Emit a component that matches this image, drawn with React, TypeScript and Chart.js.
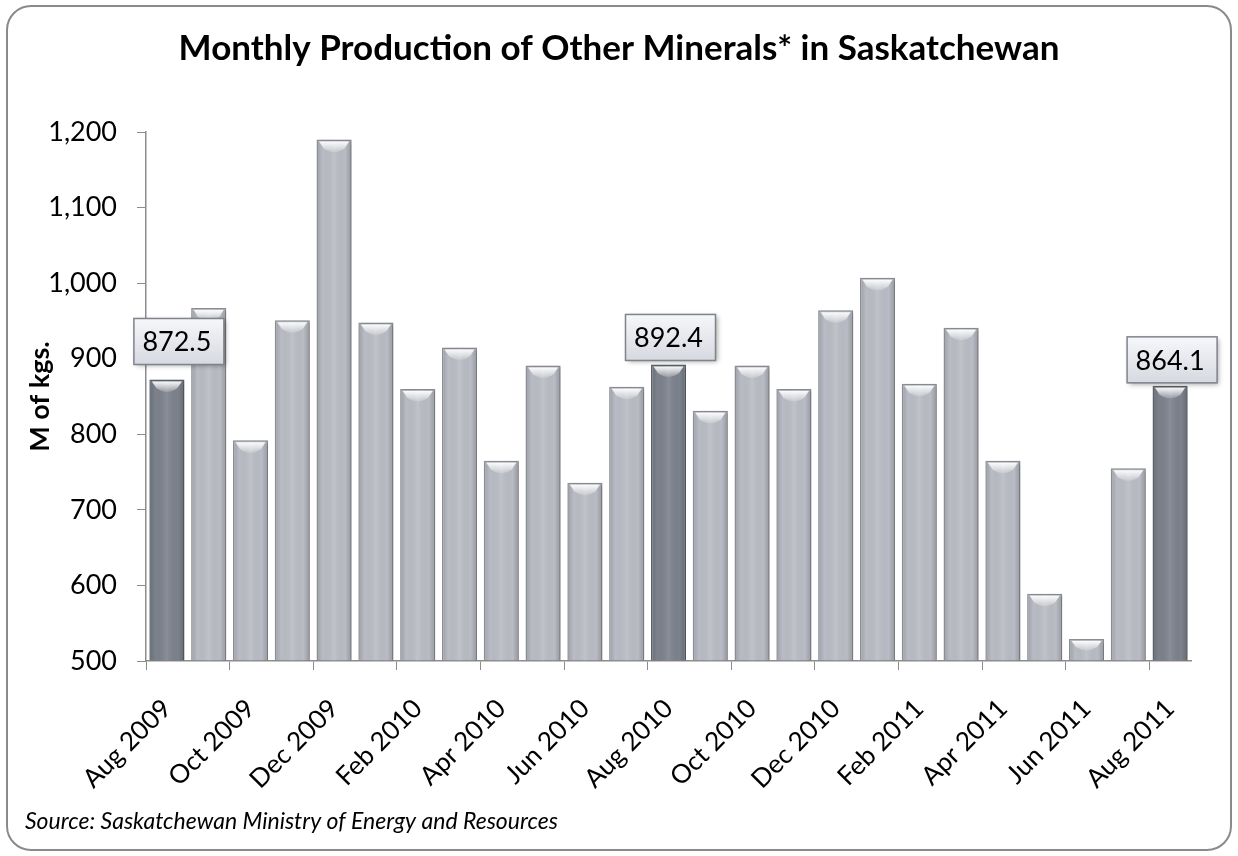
import { useEffect, useRef } from 'react';
import { Chart, registerables } from 'chart.js';

Chart.register(...registerables);

const categories = [
  'Aug 2009', 'Sep 2009', 'Oct 2009', 'Nov 2009', 'Dec 2009', 'Jan 2010', 'Feb 2010',
  'Mar 2010', 'Apr 2010', 'May 2010', 'Jun 2010', 'Jul 2010', 'Aug 2010', 'Sep 2010',
  'Oct 2010', 'Nov 2010', 'Dec 2010', 'Jan 2011', 'Feb 2011', 'Mar 2011', 'Apr 2011',
  'May 2011', 'Jun 2011', 'Jul 2011', 'Aug 2011',
];
const production = [
  872.5, 967, 792, 951, 1190, 948, 860, 915, 765, 891, 736, 863, 892.4, 831,
  891, 860, 964, 1007, 867, 941, 765, 589, 529, 755, 864.1,
];
const highlighted = ['Aug 2009', 'Aug 2010', 'Aug 2011'];
const yMin = 500;
const yMax = 1200;
const yStep = 100;
const chartTitle = 'Monthly Production of Other Minerals* in Saskatchewan';
const yAxisTitle = 'M of kgs.';
const sourceNote = 'Source: Saskatchewan Ministry of Energy and Resources';

const FONT = 'Lato, "Open Sans", sans-serif';
const AXIS_GRAY = '#8c8c8c';
const LIGHT_BAR = '#b9bcc4';
const DARK_BAR = '#7c828c';
const LIGHT_EDGE = '#8e9198';
const DARK_EDGE = '#5f646c';

const isHi = (i: number) => highlighted.includes(categories[i]);

// label box nudges (by order of highlighted bar)
const boxNudge = [
  { dx: 12, dy: -11 },
  { dx: 2, dy: 0 },
  { dx: 2, dy: 1 },
];

const decorPlugin = {
  id: 'decor',
  beforeDraw(chart: any) {
    const { ctx, width, height } = chart;
    ctx.save();
    ctx.fillStyle = '#ffffff';
    ctx.fillRect(0, 0, width, height);
    const x = 7, y = 6, w = 1224, h = 844, r = 24;
    ctx.beginPath();
    ctx.moveTo(x + r, y);
    ctx.lineTo(x + w - r, y);
    ctx.arcTo(x + w, y, x + w, y + r, r);
    ctx.lineTo(x + w, y + h - r);
    ctx.arcTo(x + w, y + h, x + w - r, y + h, r);
    ctx.lineTo(x + r, y + h);
    ctx.arcTo(x, y + h, x, y + h - r, r);
    ctx.lineTo(x, y + r);
    ctx.arcTo(x, y, x + r, y, r);
    ctx.closePath();
    ctx.strokeStyle = '#8a8a8a';
    ctx.lineWidth = 2;
    ctx.stroke();
    ctx.restore();
  },
  beforeDatasetDraw(chart: any) {
    const { ctx } = chart;
    ctx.save();
    ctx.shadowColor = 'rgba(0,0,0,0.22)';
    ctx.shadowBlur = 4;
    ctx.shadowOffsetX = 2;
    ctx.shadowOffsetY = 1;
  },
  afterDatasetDraw(chart: any) {
    const { ctx, chartArea } = chart;
    ctx.restore();
    const meta = chart.getDatasetMeta(0);
    meta.data.forEach((el: any) => {
      const { x, y, base, width } = el.getProps(['x', 'y', 'base', 'width'], true);
      const bottom = Math.min(base, chartArea.bottom);
      const left = x - width / 2;
      const right = x + width / 2;
      // cylindrical shading
      const g = ctx.createLinearGradient(left, 0, right, 0);
      g.addColorStop(0, 'rgba(0,0,0,0.16)');
      g.addColorStop(0.18, 'rgba(0,0,0,0)');
      g.addColorStop(0.5, 'rgba(255,255,255,0.10)');
      g.addColorStop(0.82, 'rgba(0,0,0,0)');
      g.addColorStop(1, 'rgba(0,0,0,0.2)');
      ctx.save();
      ctx.fillStyle = g;
      ctx.fillRect(left + 1.5, y + 1.5, width - 3, bottom - y - 1.5);
      // bevel cap
      const capH = Math.min(12, (bottom - y) / 2);
      const cg = ctx.createLinearGradient(0, y + 2, 0, y + 2 + capH);
      cg.addColorStop(0, 'rgba(255,255,255,0.95)');
      cg.addColorStop(1, 'rgba(255,255,255,0.05)');
      ctx.beginPath();
      ctx.moveTo(left + 2.5, y + 2);
      ctx.lineTo(right - 2.5, y + 2);
      ctx.lineTo(right - 7, y + 2 + capH * 0.55);
      ctx.quadraticCurveTo(x, y + 2 + capH * 1.2, left + 7, y + 2 + capH * 0.55);
      ctx.closePath();
      ctx.fillStyle = cg;
      ctx.fill();
      ctx.restore();
    });
    // value boxes
    let k = 0;
    meta.data.forEach((el: any, i: number) => {
      if (!isHi(i)) return;
      const nudge = boxNudge[k] || { dx: 0, dy: 0 };
      k += 1;
      const { x, y } = el.getProps(['x', 'y'], true);
      const bw = 90, bh = 46;
      const bx = x + nudge.dx - bw / 2;
      const by = y + nudge.dy - 4 - bh;
      ctx.save();
      ctx.shadowColor = 'rgba(0,0,0,0.35)';
      ctx.shadowBlur = 5;
      ctx.shadowOffsetX = 2;
      ctx.shadowOffsetY = 2;
      const bg = ctx.createLinearGradient(0, by, 0, by + bh);
      bg.addColorStop(0, '#f6f7fa');
      bg.addColorStop(1, '#d6d9e0');
      ctx.fillStyle = bg;
      ctx.fillRect(bx, by, bw, bh);
      ctx.shadowColor = 'rgba(0,0,0,0)';
      ctx.strokeStyle = '#7f838a';
      ctx.lineWidth = 1.5;
      ctx.strokeRect(bx, by, bw, bh);
      ctx.fillStyle = '#000000';
      ctx.font = `27px ${FONT}`;
      ctx.textAlign = 'center';
      ctx.textBaseline = 'middle';
      ctx.fillText(production[i].toFixed(1), bx + bw / 2 - 2, by + bh / 2 + 1);
      ctx.restore();
    });
  },
  afterDraw(chart: any) {
    const { ctx } = chart;
    ctx.save();
    ctx.fillStyle = '#000000';
    ctx.font = `bold 35px ${FONT}`;
    ctx.textAlign = 'center';
    ctx.textBaseline = 'alphabetic';
    ctx.fillText(chartTitle, 619, 60);
    ctx.font = `italic 23px ${FONT}`;
    ctx.textAlign = 'left';
    ctx.fillText(sourceNote, 25, 829);
    ctx.restore();
  },
};

export default function App() {
  const ref = useRef<HTMLCanvasElement | null>(null);

  useEffect(() => {
    let chart: Chart | null = null;
    let cancelled = false;
    const ready = Promise.all([
      document.fonts.load(`bold 35px Lato`),
      document.fonts.load(`27px Lato`),
      document.fonts.load(`italic 23px Lato`),
    ]).catch(() => undefined);
    ready.then(() => {
      if (cancelled || !ref.current) return;
      chart = new Chart(ref.current, {
        type: 'bar',
        data: {
          labels: categories,
          datasets: [
            {
              label: 'Production',
              data: production,
              base: yMin,
              backgroundColor: categories.map((_, i) => (isHi(i) ? DARK_BAR : LIGHT_BAR)),
              borderColor: categories.map((_, i) => (isHi(i) ? DARK_EDGE : LIGHT_EDGE)),
              borderWidth: 1.5,
              barPercentage: 0.84,
              categoryPercentage: 1,
            } as any,
          ],
        },
        options: {
          animation: false,
          responsive: false,
          devicePixelRatio: 1,
          events: [],
          layout: { padding: { left: 20, right: 47, top: 132, bottom: 0 } },
          plugins: {
            legend: { display: false },
            tooltip: { enabled: false },
            title: { display: false },
          },
          scales: {
            x: {
              offset: true,
              grid: {
                offset: true,
                drawOnChartArea: false,
                drawTicks: true,
                tickLength: 9,
                color: (c: any) => (c.index !== undefined && c.index % 2 === 0 ? AXIS_GRAY : 'rgba(0,0,0,0)'),
              },
              border: { display: true, color: AXIS_GRAY, width: 1.5 },
              ticks: {
                autoSkip: false,
                minRotation: 45,
                maxRotation: 45,
                padding: 23,
                color: '#000000',
                font: { family: FONT, size: 26 },
                callback: (_v: any, i: number) => (i % 2 === 0 ? categories[i] : ''),
              },
              afterFit: (s: any) => {
                s.height = 195;
              },
            },
            y: {
              min: yMin,
              max: yMax,
              grid: {
                drawOnChartArea: false,
                drawTicks: true,
                tickLength: 9,
                color: AXIS_GRAY,
              },
              border: { display: true, color: AXIS_GRAY, width: 1.5 },
              ticks: {
                stepSize: yStep,
                padding: 20,
                color: '#000000',
                font: { family: FONT, size: 27 },
                callback: (v: any) => Number(v).toLocaleString('en-US'),
              },
              title: {
                display: true,
                text: yAxisTitle,
                color: '#000000',
                font: { family: FONT, size: 27, weight: 'bold' },
                padding: { top: 4, bottom: 0 },
              },
              afterFit: (s: any) => {
                s.width = 126;
              },
            },
          },
        },
        plugins: [decorPlugin],
      });
    });
    return () => {
      cancelled = true;
      if (chart) chart.destroy();
    };
  }, []);

  return (
    <div style={{ position: 'absolute', left: 0, top: 0, width: 1238, height: 856, background: '#fff' }}>
      <canvas ref={ref} width={1238} height={856} style={{ display: 'block' }} />
    </div>
  );
}
